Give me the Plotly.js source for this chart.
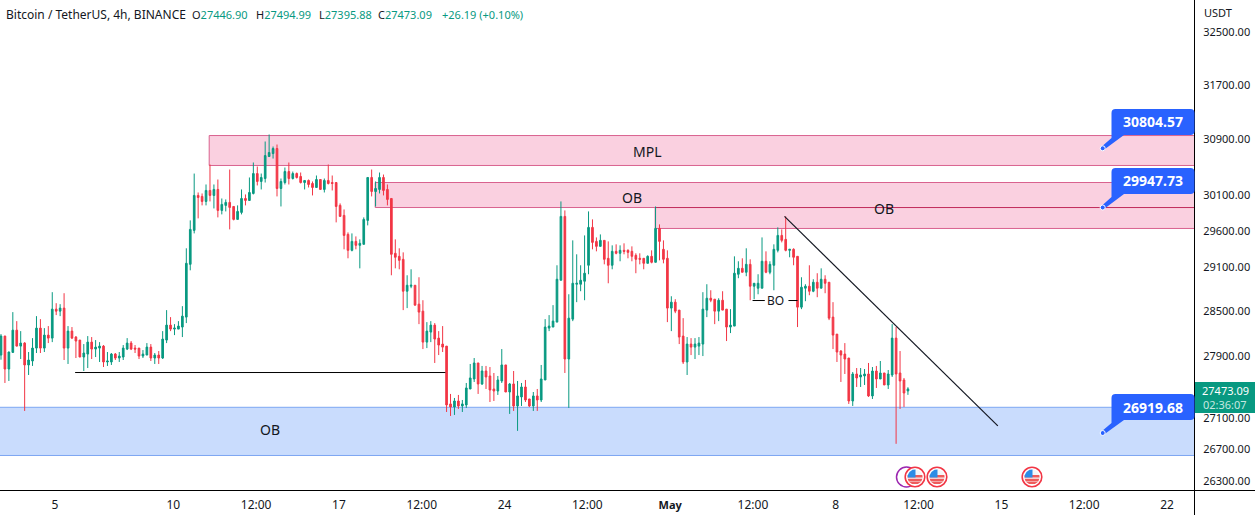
<!DOCTYPE html>
<html><head><meta charset="utf-8">
<script src="https://cdn.plot.ly/plotly-3.0.1.min.js"></script>
<style>html,body{margin:0;padding:0;background:#fff;overflow:hidden}#c{width:1255px;height:515px}</style>
</head><body><div id="c"></div>
<script>
const opens=[
27915,28166,27732,27950,28245,28033,28073,27785,27837,28007,
28272,28007,28179,28139,28526,28499,28540,28007,28232,28153,
28113,27889,27928,28086,27994,28007,28033,27824,27824,27928,
27876,27889,27994,28073,28007,28007,27902,27915,28020,27876,
27915,27876,28113,28312,28259,28259,28286,28419,29135,29605,
30097,30083,30012,30168,30097,30182,29885,29956,29998,29941,
29759,29857,30054,30026,30125,30409,30296,30338,30654,30697,
30770,30196,30281,30438,30338,30409,30367,30281,30310,30267,
30210,30324,30182,30310,30281,30281,29956,29815,29549,29328,
29452,29397,29411,29745,30353,30153,30182,30353,30182,30054,
29287,29245,29204,28768,28836,28849,28593,28499,28086,28219,
28312,28139,28060,28033,27279,27240,27317,27253,27266,27472,
27602,27811,27537,27706,27641,27472,27446,27576,27785,27433,
27537,27253,27369,27498,27343,27253,27382,27330,27589,28272,
28286,28352,28917,29801,27863,28392,28863,28863,28904,29122,
29647,29452,29383,29466,29218,29122,29314,29287,29328,29328,
29314,29259,29218,29218,29149,29245,29163,29633,29342,29218,
28540,28620,28513,28166,27824,28060,28020,28033,28060,28513,
28673,28660,28499,28646,28526,28286,28299,28999,29080,29026,
29135,28836,28809,28809,29177,29026,29122,29328,29535,29480,
29328,29342,29245,28553,28809,28836,28768,28890,28809,28931,
28890,28419,28192,27968,27928,27876,27317,27667,27628,27641,
27667,27382,27706,27602,27680,27524,27654,28139,27680,27589,
27446.90];
const highs=[
28192,28170,27960,28486,28365,28232,28086,27955,28139,28432,
28392,28272,28299,28755,28606,28593,28741,28299,28286,28166,
28113,28060,28166,28153,28113,28086,28047,27955,27942,27942,
27955,28047,28139,28100,28047,28007,27981,28073,28060,27942,
27968,28232,28513,28419,28325,28365,28566,29356,29745,30409,
30139,30125,30253,30539,30253,30324,30054,30040,30467,29941,
29956,30182,30111,30353,30568,30510,30409,30872,30974,30799,
30828,30338,30496,30568,30438,30424,30424,30310,30324,30296,
30381,30324,30338,30539,30381,30281,29984,29899,29577,29563,
29521,29480,29787,30353,30467,30296,30424,30395,30253,30054,
29480,29356,29300,28985,29067,28849,28958,28646,28352,28365,
28339,28232,28299,28033,27408,27356,27395,27330,27550,27798,
27876,27811,27772,27772,27758,27680,27641,27994,27785,27550,
27706,27576,27550,27589,27343,27433,27472,27785,28392,28446,
28580,29122,30012,29885,28727,29466,29273,29122,29535,29871,
29759,29507,29549,29466,29452,29397,29411,29397,29425,29342,
29383,29287,29287,29218,29259,29328,29941,29689,29466,29328,
28700,28660,28513,28405,28153,28139,28139,28153,28755,28863,
28781,28660,28673,28768,28526,28526,29245,29177,29218,29356,
29204,28876,28999,29507,29314,29177,29411,29647,29619,29801,
29342,29356,29245,28958,28863,29122,28931,29013,29080,28985,
28890,28620,28192,27981,28073,27876,27693,27745,27745,27732,
27811,27758,27772,27837,27680,27719,28325,28286,27968,27615,
27494.99];
const lows=[
27854,27550,27576,27945,28030,27863,27189,27654,27772,27942,
27942,27955,28073,28086,28446,28432,27850,27798,28126,27876,
27889,27706,27745,27863,27889,27824,27758,27772,27785,27850,
27824,27850,27981,27981,27942,27863,27876,27915,27837,27798,
27798,27863,28073,28232,28179,28259,28153,28339,29053,29563,
29773,29956,29956,30012,29913,29787,29829,29871,29619,29745,
29759,29829,29956,30020,30111,30239,30182,30281,30650,30625,
30083,29941,30253,30253,30324,30338,30267,30182,30210,30097,
30210,30182,30139,30253,30168,29717,29801,29342,29218,29314,
29342,29080,29411,29675,30083,29941,30125,30097,29956,28985,
29080,29067,28513,28540,28809,28575,28325,27994,28007,28086,
27811,27915,27955,27176,27125,27138,27215,27176,27228,27472,
27563,27408,27524,27472,27304,27317,27395,27550,27433,27151,
27189,26935,27253,27304,27240,27189,27189,27304,27589,28232,
28286,28352,28917,27680,27228,28365,28620,28768,28646,28999,
29342,29314,29383,29135,28876,29067,29273,29177,29273,29218,
29177,29013,29135,29067,29149,29149,29163,29190,29149,28352,
28232,28472,28060,27798,27654,27915,27863,27915,27902,28419,
28620,28325,28365,28513,28100,28206,28299,28945,29026,28972,
28646,28660,28727,28809,29013,28999,28781,29300,29438,29314,
29232,29122,28286,28526,28633,28714,28755,28687,28809,28741,
28379,27994,27824,27563,27667,27279,27253,27498,27498,27524,
27369,27343,27485,27602,27524,27472,27628,26771,27215,27240,
27395.88];
const closes=[
28166,27732,27955,28245,28033,28073,27785,27850,28007,28272,
28007,28179,28139,28526,28499,28540,28007,28232,28139,28100,
27889,27942,28086,27994,28020,28033,27824,27837,27928,27876,
27902,28007,28073,27994,27994,27902,27928,28020,27876,27915,
27876,28126,28312,28259,28272,28299,28432,29149,29619,30097,
30068,30012,30168,30097,30182,29885,29970,29998,29927,29759,
29871,30054,30026,30139,30409,30296,30353,30668,30712,30770,
30196,30296,30438,30338,30409,30353,30281,30310,30253,30210,
30324,30182,30310,30267,30267,29941,29801,29535,29328,29452,
29397,29425,29759,30353,30153,30196,30353,30168,30040,29273,
29232,29190,28768,28849,28849,28580,28486,28086,28232,28312,
28126,28047,28020,27266,27240,27317,27253,27279,27485,27615,
27811,27537,27706,27628,27459,27446,27589,27785,27433,27537,
27253,27382,27498,27330,27253,27382,27330,27602,28286,28299,
28365,28931,29801,27863,28405,28876,28876,28917,29013,29647,
29438,29383,29466,29204,29122,29314,29287,29328,29314,29300,
29245,29204,29204,29149,29245,29163,29633,29452,29204,28540,
28620,28499,28153,27824,28060,28020,28060,28073,28526,28673,
28646,28499,28646,28513,28286,28312,29013,29080,29026,29135,
28836,28876,28876,29177,29026,29135,29342,29535,29466,29328,
29342,29232,28553,28822,28836,28768,28890,28809,28931,28876,
28405,28179,27955,27915,27863,27317,27667,27615,27654,27667,
27382,27706,27602,27680,27524,27667,28139,27667,27576,27420,
27473.09];

const barIndex=opens.map((_,i)=>i);
const xTickBars=[13.7,43.7,64.7,85.7,106.7,127.7,148.7,169.7,190.7,211.7,232.7,253.7,274.7,295.7];
const xTickText=['5','10','12:00','17','12:00','24','12:00','<b style="font-size:11px">May</b>','12:00','8','12:00','15','12:00','22'];
const yTickVals=[26300,26700,27100,27900,28500,29100,29600,30100,30900,31700,32500];
const yTickText=yTickVals.map(v=>v.toFixed(2));
const callouts=['30804.57','29947.73','26919.68'];

const W=1195,H=491;
const XR=[-0.25,302.8], YR=[26182,33002];
const FONT='"Noto Sans", sans-serif';
const INK='#131722',UP='#089981',DOWN='#f23645',BLUE='#2962ff';
const PINK='#fad0e0',PINKL='#d9628f',SKY='#c9dcfd',SKYL='#7ea6f2';
const px=x=>x/W, py=y=>1-y/H;

const shapes=[];
function zone(x0,x1,p0,p1,fill,line){shapes.push({type:'rect',layer:'below',xref:'x',yref:'y',x0,x1,y0:p0,y1:p1,fillcolor:fill,line:{color:line,width:1}});}
function seg(x0,p0,x1,p1,w,c){shapes.push({type:'line',layer:'above',xref:'x',yref:'y',x0,x1,y0:p0,y1:p1,line:{color:c||'#000',width:w||1}});}
zone(-5,320,26624,27236,SKY,SKYL);
zone(52.8,320,30525,30959,PINK,PINKL);
zone(94.9,320,29926,30281,PINK,PINKL);
zone(165.9,320,29632,29926,PINK,PINKL);
shapes.push({type:'line',layer:'below',xref:'x',yref:'y',x0:165.9,x1:320,y0:29926,y1:29926,line:{color:'#c2305f',width:1}});
seg(18.8,27686,112.7,27686,1);
seg(190.6,28642,193.7,28642,1);
seg(199.7,28642,202,28642,1);
seg(198.7,29801,252.8,26998,1.2,'#131722');

shapes.push({type:'line',xref:'paper',yref:'paper',x0:px(1194.5),x1:px(1194.5),y0:py(0),y1:py(515),line:{color:'#000',width:1}});
shapes.push({type:'line',xref:'paper',yref:'paper',x0:0,x1:px(1255),y0:py(490.5),y1:py(490.5),line:{color:'#000',width:1}});
const tagBox=(x0,y0,x1,y1,c)=>shapes.push({type:'rect',xref:'paper',yref:'paper',x0:px(x0),x1:px(x1),y0:py(y0),y1:py(y1),fillcolor:c,line:{width:0}});
tagBox(1195,382,1255,413,UP);

function callout(top,tipY){
  const L=1111.5,R=1194.5,B=top+26,r=4;
  const P=(x,y)=>px(x)+' '+py(y);
  const path='M '+P(L+r,top)+' L '+P(R-r,top)+' Q '+P(R,top)+' '+P(R,top+r)+' L '+P(R,B-r)+' Q '+P(R,B)+' '+P(R-r,B)+
    ' L '+P(1124,B)+' L '+P(1104,tipY+1.5)+' L '+P(1101.5,tipY-1.5)+' L '+P(L,B+3)+' L '+P(L,top+r)+' Q '+P(L,top)+' '+P(L+r,top)+' Z';
  shapes.push({type:'path',xref:'paper',yref:'paper',path,fillcolor:BLUE,line:{width:0}});
  shapes.push({type:'circle',xref:'paper',yref:'paper',x0:px(1100.2),x1:px(1105.2),y0:py(tipY-2.5),y1:py(tipY+2.5),fillcolor:BLUE,line:{color:'#fff',width:1}});
}
callout(109,148.3);callout(168,207.5);callout(394,433);

function ring(cx,cy,r,fill,col,w){shapes.push({type:'circle',xref:'paper',yref:'paper',x0:px(cx-r),x1:px(cx+r),y0:py(cy-r),y1:py(cy+r),fillcolor:fill,line:{color:col,width:w}});}
function flag(cx,cy){
  ring(cx,cy,9.8,'#fff',DOWN,1.6);
  ring(cx,cy,7.6,'#f4f6f8','rgba(0,0,0,0)',0);
  const P=(x,y)=>px(x)+' '+py(y);
  [[-2,0.6],[1.8,4.4],[5,7]].forEach(([a,b])=>{
    const wa=Math.sqrt(Math.max(0,57.8-a*a)),wb=Math.sqrt(Math.max(0,57.8-b*b));
    shapes.push({type:'path',xref:'paper',yref:'paper',fillcolor:'#ef5b5b',line:{width:0},
      path:'M '+P(cx-wa,cy+a)+' L '+P(cx+wa,cy+a)+' L '+P(cx+wb,cy+b)+' L '+P(cx-wb,cy+b)+' Z'});
  });
  shapes.push({type:'path',xref:'paper',yref:'paper',fillcolor:'#2d8ce6',line:{width:0},
    path:'M '+P(cx-7.2,cy+0.6)+' L '+P(cx+0.5,cy+0.6)+' L '+P(cx+0.5,cy-7.6)+' L '+P(cx-2.5,cy-7.2)+' L '+P(cx-5.5,cy-5)+' L '+P(cx-7.2,cy-2)+' Z'});
}
ring(906.5,477,10,'rgba(255,255,255,0)','#9c27b0',1.5);
flag(915,477);flag(937,477);flag(1032,477);

const annotations=[];
function txt(x,y,text,size,color,anchor,extra){annotations.push(Object.assign({xref:'paper',yref:'paper',x:px(x),y:py(y),text,showarrow:false,xanchor:anchor||'left',yanchor:'middle',borderpad:0,font:{family:FONT,size:size,color:color}},extra||{}));}
txt(5,14,'Bitcoin / TetherUS, 4h, BINANCE',12,INK);
const g=s=>'<span style="color:'+UP+'">'+s+'</span>';
txt(191,14,'O'+g('27446.90'),11,INK);
txt(255,14,'H'+g('27494.99'),11,INK);
txt(317.5,14,'L'+g('27395.88'),11,INK);
txt(377,14,'C'+g('27473.09'),11,INK);
txt(441,14,g('+26.19 (+0.10%)'),11,UP);
txt(1203,13,'USDT',11,INK);
txt(1225,390.5,'27473.09',11,'#fff','center');
txt(1225,404.5,'02:36:07',11,'#c5e8e0','center');
const boldWhite={font:{family:FONT,size:14,color:'#fff',weight:700}};
txt(1153,122,callouts[0],14,'#fff','center',boldWhite);
txt(1153,181,callouts[1],14,'#fff','center',boldWhite);
txt(1153,407,callouts[2],14,'#fff','center',boldWhite);
txt(648,151,'MPL',14,INK,'center');
txt(632,197,'OB',14,INK,'center');
txt(884,208,'OB',14,INK,'center');
txt(270,429,'OB',14,INK,'center');
txt(775.5,300,'BO',12,INK,'center');

const trace={type:'candlestick',x:barIndex,open:opens,high:highs,low:lows,close:closes,
  increasing:{line:{color:UP,width:1},fillcolor:UP},decreasing:{line:{color:DOWN,width:1},fillcolor:DOWN},
  whiskerwidth:0,hoverinfo:'skip',showlegend:false};
const layout={width:1255,height:515,margin:{l:0,r:60,t:0,b:24,pad:0,autoexpand:false},
  paper_bgcolor:'#fff',plot_bgcolor:'#fff',showlegend:false,hovermode:false,boxgap:0.4,
  font:{family:FONT,color:INK,size:11},
  xaxis:{type:'linear',range:XR,rangeslider:{visible:false},showgrid:false,zeroline:false,showline:false,
    tickmode:'array',tickvals:xTickBars,ticktext:xTickText,ticks:'outside',ticklen:3,tickcolor:'rgba(0,0,0,0)',tickfont:{family:FONT,size:12,color:INK}},
  yaxis:{type:'log',side:'right',range:YR.map(Math.log10),showgrid:false,zeroline:false,showline:false,
    tickmode:'array',tickvals:yTickVals,ticktext:yTickText,ticks:'outside',ticklen:5,tickcolor:'rgba(0,0,0,0)',ticklabelshift:-1.5,tickfont:{family:FONT,size:11,color:INK}},
  shapes,annotations};
Plotly.newPlot('c',[trace],layout,{staticPlot:true,displayModeBar:false});
</script></body></html>
